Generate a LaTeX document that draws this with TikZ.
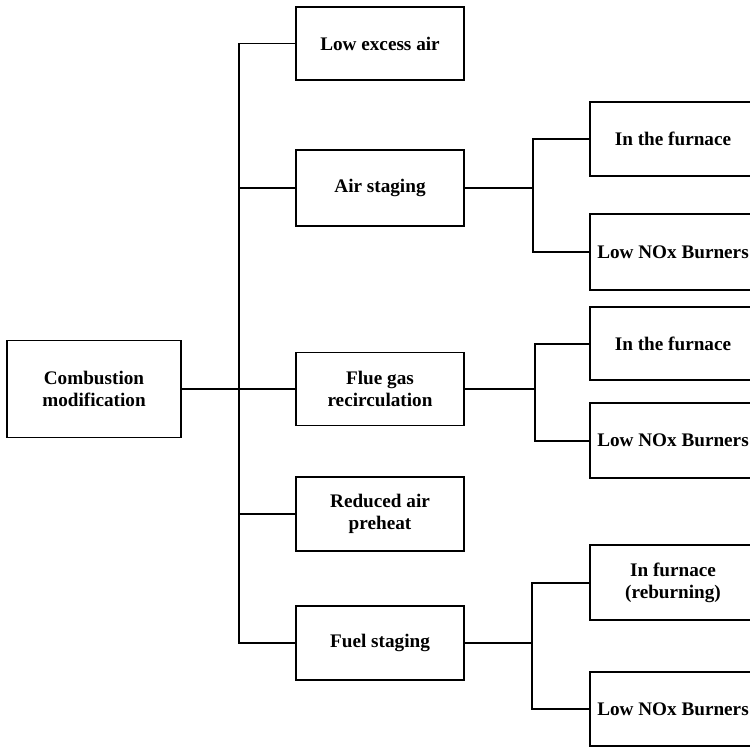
\documentclass[tikz,border=0pt]{standalone}
\usepackage{fontspec}
\setmainfont{Liberation Serif}
\begin{document}
\begin{tikzpicture}[x=1pt,y=-1pt,
  box/.style={draw, line width=1.5pt, minimum width=168pt, minimum height=74pt, inner sep=0pt, align=center, font=\fontsize{19.2}{22}\selectfont\bfseries},
  rbox/.style={box, minimum width=166pt},
  link/.style={line width=1.2pt},
  branch/.style={line width=2pt}]
\useasboundingbox (0,0) rectangle (750,747);
\clip (0,0) rectangle (750,747);
% left
\node[box, minimum width=174pt, minimum height=97pt] (cm) at (94,389) {Combustion\\modification};
% middle column
\node[box, minimum height=73pt] (lea) at (380,43.5) {Low excess air};
\node[box, minimum height=76pt] (as) at (380,188) {Air staging};
\node[box, minimum height=73pt] (fgr) at (380,389) {Flue gas\\recirculation};
\node[box, minimum height=74pt] (rap) at (380,514) {Reduced air\\preheat};
\node[box, minimum height=74pt] (fs) at (380,643) {Fuel staging};
% right column
\node[rbox, minimum height=74pt] (f1) at (673,139) {In the furnace};
\node[rbox, minimum height=76pt] (b1) at (673,252) {Low NOx Burners};
\node[rbox, minimum height=73pt] (f2) at (673,343.5) {In the furnace};
\node[rbox, minimum height=75pt] (b2) at (673,440.5) {Low NOx Burners};
\node[rbox, minimum height=75pt] (f3) at (673,582.5) {In furnace\\(reburning)};
\node[rbox, minimum height=74pt] (b3) at (673,709) {Low NOx Burners};
% trunk
\coordinate (t) at (239,0);
\draw[link] (cm.east) -- (fgr.west);
\draw[link] (lea.west) -| (t |- fs.west) -- (fs.west);
\draw[link] (as.west) -- (t |- as.west);
\draw[link] (rap.west) -- (t |- rap.west);
% branches
\coordinate (j1) at (533,188);
\coordinate (j2) at (535,389);
\coordinate (j3) at (532,643);
\draw[link] (as.east) -- (j1);
\draw[link] (fgr.east) -- (j2);
\draw[link] (fs.east) -- (j3);
\draw[branch] (f1.west) -| (j1 |- b1.west) -- (b1.west);
\draw[branch] (f2.west) -| (j2 |- b2.west) -- (b2.west);
\draw[branch] (f3.west) -| (j3 |- b3.west) -- (b3.west);
\end{tikzpicture}
\end{document}
